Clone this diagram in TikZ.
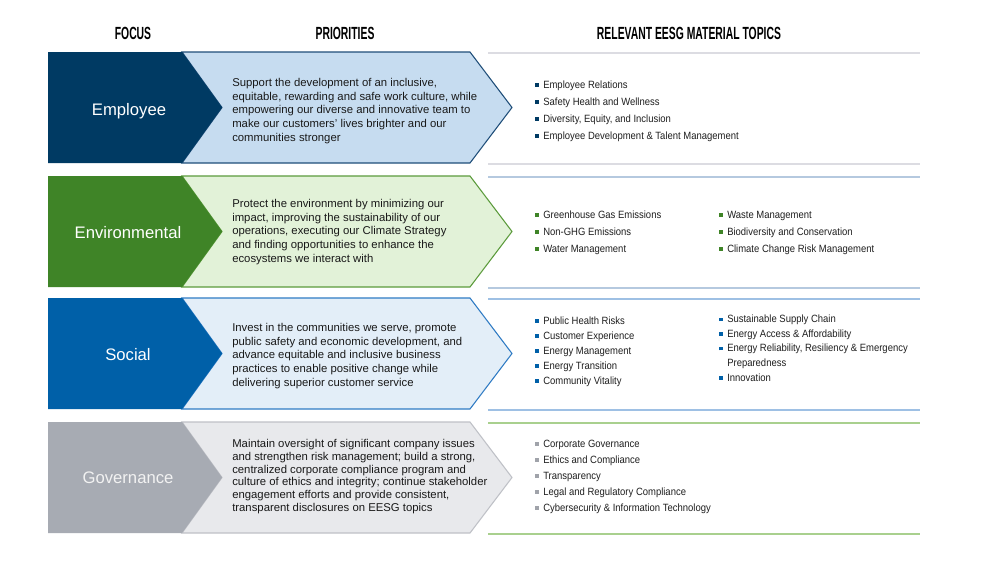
\documentclass[tikz,border=0pt]{standalone}
\usepackage{graphicx}
\usepackage{fontspec}
\setmainfont{Liberation Sans}
\newfontfamily\bulletfont[FakeStretch=0.9]{Liberation Sans}
\newcommand{\hdr}[1]{\scalebox{0.59}[1]{\fontsize{13.2}{14}\selectfont\bfseries #1}}
\newcommand{\bu}[2]{\makebox[6pt][l]{\textcolor{#1}{\rule[1pt]{2.6pt}{2.6pt}}}#2}
\definecolor{empD}{HTML}{003A63}
\definecolor{empL}{HTML}{C6DCF0}
\definecolor{empS}{HTML}{1F4E79}
\definecolor{empR}{HTML}{DCDCE2}
\definecolor{envD}{HTML}{3F8427}
\definecolor{envL}{HTML}{E2F2D8}
\definecolor{envS}{HTML}{5C9B3C}
\definecolor{envR}{HTML}{B5C9DF}
\definecolor{socD}{HTML}{0060A8}
\definecolor{socL}{HTML}{E3EEF8}
\definecolor{socS}{HTML}{2F7BC4}
\definecolor{socR}{HTML}{9EC0E4}
\definecolor{govD}{HTML}{A7ABB3}
\definecolor{govL}{HTML}{E8E9EC}
\definecolor{govS}{HTML}{BFC1C7}
\definecolor{govR}{HTML}{A9D08E}
\definecolor{govB}{HTML}{A0A3AA}
\tikzset{
  hdrtext/.style={inner sep=0, text=black},
  focuslabel/.style={inner sep=0, font=\fontsize{12.5}{14}\selectfont, text=white},
  pri/.style={anchor=west, inner sep=0, align=left, text=black!90, font=\fontsize{8.5}{10.2}\selectfont},
  blist/.style={anchor=west, inner sep=0, align=left, text=black!88},
  rule/.style={line width=1.5pt},
}
\newcommand{\row}[5]{% top, dark, light, stroke, rulecolor
  \fill[#3, draw=#4, line width=0.8pt] (182,#1) -- (470,#1) -- (512,#1+55.5) -- (470,#1+111) -- (182,#1+111) -- (222,#1+55.5) -- cycle;
  \fill[#2] (48,#1) -- (182,#1) -- (222,#1+55.5) -- (182,#1+111) -- (48,#1+111) -- cycle;
  \draw[rule, #5] (488,#1+0.5) -- (920,#1+0.5);
  \draw[rule, #5] (488,#1+111.5) -- (920,#1+111.5);
}
\begin{document}
\begin{tikzpicture}[x=0.75pt,y=-0.75pt]
\useasboundingbox (0,0) rectangle (1000,562);
\fill[white] (0,0) rectangle (1000,562);
% headers
\node[hdrtext] (hfocus) at (133,33) {\hdr{FOCUS}};
\node[hdrtext] (hprio) at (345,33) {\hdr{PRIORITIES}};
\node[hdrtext] (htopics) at (689,33) {\hdr{RELEVANT EESG MATERIAL TOPICS}};
% rows
\row{52}{empD}{empL}{empS}{empR}
\row{176}{envD}{envL}{envS}{envR}
\row{298}{socD}{socL}{socS}{socR}
\row{422}{govD}{govL}{govS}{govR}
% labels
\node[focuslabel] (lemp) at (129,111) {Employee};
\node[focuslabel] (lenv) at (128,233) {Environmental};
\node[focuslabel] (lsoc) at (128,355) {Social};
\node[focuslabel, text=white!95!black] (lgov) at (128,478) {Governance};
% priorities
\node[pri] (pemp) at (232,111) {Support the development of an inclusive,\\equitable, rewarding and safe work culture, while\\empowering our diverse and innovative team to\\make our customers’ lives brighter and our\\communities stronger};
\node[pri] (penv) at (232,232) {Protect the environment by minimizing our\\impact, improving the sustainability of our\\operations, executing our Climate Strategy\\and finding opportunities to enhance the\\ecosystems we interact with};
\node[pri] (psoc) at (232,356) {Invest in the communities we serve, promote\\public safety and economic development, and\\advance equitable and inclusive business\\practices to enable positive change while\\delivering superior customer service};
\node[pri, font=\fontsize{8.5}{9.6}\selectfont] (pgov) at (232,476.5) {Maintain oversight of significant company issues\\and strengthen risk management; build a strong,\\centralized corporate compliance program and\\culture of ethics and integrity; continue stakeholder\\engagement efforts and provide consistent,\\transparent disclosures on EESG topics};
% topics
\node[blist, font=\bulletfont\fontsize{7.9}{12.75}\selectfont] (temp) at (535,111) {\bu{empD}{Employee Relations}\\\bu{empD}{Safety Health and Wellness}\\\bu{empD}{Diversity, Equity, and Inclusion}\\\bu{empD}{Employee Development \& Talent Management}};
\node[blist, font=\bulletfont\fontsize{7.9}{12.75}\selectfont] (tenv1) at (535,232.5) {\bu{envD}{Greenhouse Gas Emissions}\\\bu{envD}{Non-GHG Emissions}\\\bu{envD}{Water Management}};
\node[blist, font=\bulletfont\fontsize{7.9}{12.75}\selectfont] (tenv2) at (719,232.5) {\bu{envD}{Waste Management}\\\bu{envD}{Biodiversity and Conservation}\\\bu{envD}{Climate Change Risk Management}};
\node[blist, font=\bulletfont\fontsize{7.9}{11.25}\selectfont] (tsoc1) at (535,351.5) {\bu{socD}{Public Health Risks}\\\bu{socD}{Customer Experience}\\\bu{socD}{Energy Management}\\\bu{socD}{Energy Transition}\\\bu{socD}{Community Vitality}};
\node[blist, font=\bulletfont\fontsize{7.9}{11}\selectfont] (tsoc2) at (719,348) {\bu{socD}{Sustainable Supply Chain}\\\bu{socD}{Energy Access \& Affordability}\\\bu{socD}{Energy Reliability, Resiliency \& Emergency}\\\hspace*{6pt}Preparedness\\\bu{socD}{Innovation}};
\node[blist, font=\bulletfont\fontsize{7.9}{12}\selectfont] (tgov) at (535,476.5) {\bu{govB}{Corporate Governance}\\\bu{govB}{Ethics and Compliance}\\\bu{govB}{Transparency}\\\bu{govB}{Legal and Regulatory Compliance}\\\bu{govB}{Cybersecurity \& Information Technology}};
\end{tikzpicture}
\end{document}
